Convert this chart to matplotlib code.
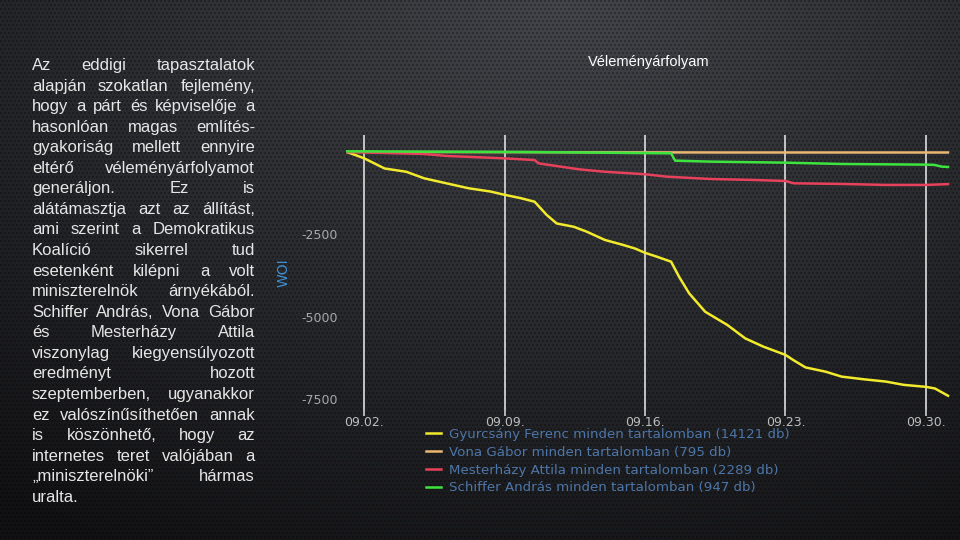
import numpy as np
import matplotlib
matplotlib.use('Agg')
import matplotlib.pyplot as plt

# Napok (szeptember, a hónap napja) és WOI értékek
gy_x = [1.15, 2.0, 3.02, 4.1, 5.0, 6.1, 7.2, 8.3, 9.0, 9.8, 10.5, 11.1, 11.6, 12.45, 13.1,
        14.0, 14.9, 15.5, 16.0, 16.6, 17.3, 17.7, 18.2, 19.0, 20.1, 21.0, 21.9, 23.0, 23.4,
        24.0, 25.0, 25.8, 26.9, 28.0, 28.9, 30.0, 30.45, 31.1]
gy_y = [0, -190, -500, -600, -800, -950, -1100, -1200, -1300, -1400, -1510, -1910, -2170,
        -2270, -2420, -2670, -2820, -2930, -3060, -3180, -3330, -3790, -4290, -4850, -5250,
        -5660, -5910, -6160, -6320, -6540, -6670, -6820, -6900, -6970, -7070, -7130, -7180, -7400]

vona_x = [1.15, 10.0, 20.0, 31.1]
vona_y = [0, -5, -15, -15]

mh_x = [1.15, 3.0, 5.0, 6.1, 8.9, 10.5, 10.7, 11.8, 12.7, 14.0, 16.0, 17.1, 19.3, 21.5,
        23.0, 23.4, 25.8, 28.0, 30.0, 31.1]
mh_y = [0, -30, -60, -120, -190, -245, -345, -445, -525, -600, -675, -750, -820, -850,
        -880, -950, -970, -1000, -1000, -975]

sch_x = [1.15, 10.0, 17.3, 17.5, 19.3, 23.0, 25.8, 30.0, 30.4, 30.8, 31.1]
sch_y = [20, 0, -40, -263, -293, -324, -364, -384, -390, -445, -455]

labels = ['Gyurcsány Ferenc minden tartalomban (14121 db)',
          'Vona Gábor minden tartalomban (795 db)',
          'Mesterházy Attila minden tartalomban (2289 db)',
          'Schiffer András minden tartalomban (947 db)']
colors = ['#f2ea2c', '#e9b872', '#e8415c', '#3ee43e']

tick_days = [2, 9, 16, 23, 30]
tick_labels = ['09.02.', '09.09.', '09.16.', '09.23.', '09.30.']
y_ticks = [-2500, -5000, -7500]

paragraph = [
    'Az eddigi tapasztalatok',
    'alapján szokatlan fejlemény,',
    'hogy a párt és képviselője a',
    'hasonlóan magas említés-',
    'gyakoriság mellett ennyire',
    'eltérő véleményárfolyamot',
    'generáljon. Ez is',
    'alátámasztja azt az állítást,',
    'ami szerint a Demokratikus',
    'Koalíció sikerrel tud',
    'esetenként kilépni a volt',
    'miniszterelnök árnyékából.',
    'Schiffer András, Vona Gábor',
    'és Mesterházy Attila',
    'viszonylag kiegyensúlyozott',
    'eredményt hozott',
    'szeptemberben, ugyanakkor',
    'ez valószínűsíthetően annak',
    'is köszönhető, hogy az',
    'internetes teret valójában a',
    '„miniszterelnöki” hármas',
    'uralta.',
]

W, H = 960, 540
fig = plt.figure(figsize=(9.6, 5.4), dpi=100)

# háttér: sötét színátmenet pöttyös mintával
yy, xx = np.mgrid[0:H, 0:W]
d = np.sqrt(((xx - 560) / 900.0) ** 2 + (yy / 620.0) ** 2)
t = np.clip(d, 0, 1)
top = np.array([0.26, 0.27, 0.29])
bot = np.array([0.07, 0.07, 0.08])
img = top[None, None, :] * (1 - t[..., None]) + bot[None, None, :] * t[..., None]
row = (yy // 4) % 2
dots = (((xx + row * 2) % 4) < 2) & ((yy % 4) < 2)
img[dots] *= 0.72
bg = fig.add_axes([0, 0, 1, 1])
bg.imshow(img, aspect='auto', extent=[0, W, H, 0])
bg.axis('off')

# diagram
ax = fig.add_axes([346 / W, 1 - 410 / H, (950 - 346) / W, 275 / H])
ax.patch.set_alpha(0)
for xs, ys, c, lab in zip([gy_x, vona_x, mh_x, sch_x], [gy_y, vona_y, mh_y, sch_y], colors, labels):
    ax.plot(xs, ys, color=c, lw=1.8, label=lab)

ax.set_xlim(1.1, 31.2)
ax.set_ylim(-7833, 516)
ax.set_xticks(tick_days)
ax.set_xticklabels(tick_labels)
ax.set_yticks(y_ticks)
ax.set_yticklabels([str(v) for v in y_ticks])
for s in ax.spines.values():
    s.set_visible(False)
ax.grid(axis='x', color='#d0d0d0', lw=1.3)
ax.tick_params(axis='x', colors='#d0d0d0', labelcolor='#bdbdbd', labelsize=9,
               length=4, width=1.2, direction='out', pad=0.5)
ax.tick_params(axis='y', length=0, labelcolor='#a8a8a8', labelsize=9, pad=6)
ax.set_ylabel('WOI', color='#3f8fd0', fontsize=10)
ax.yaxis.set_label_coords(-(346 - 291) / 604, 0.5)

fig.legend(loc='upper left', bbox_to_anchor=(426 / W, 1 - 428 / H), frameon=False,
           borderpad=0, borderaxespad=0, handlelength=1.15, handletextpad=0.6,
           labelspacing=0.36, fontsize=9.6, labelcolor='#4d76a8')

fig.text(649 / W, 1 - 62 / H, 'Véleményárfolyam', ha='center', va='center',
         color='white', fontsize=10.5, family='Liberation Sans')

# sorkizárt bekezdés
renderer = fig.canvas.get_renderer()
left, right = 32, 255
base0, step = 70, 20.56
font = dict(color='#e6e6e6', fontsize=12, family='Liberation Sans', va='baseline', ha='left')
space = fig.text(0, 0, 'a a', **font)
sp_w = space.get_window_extent(renderer).width
aa = fig.text(0, 0, 'aa', **font)
sp_w -= aa.get_window_extent(renderer).width
space.remove()
aa.remove()
for i, line in enumerate(paragraph):
    yb = 1 - (base0 + i * step) / H
    words = line.split()
    objs = [fig.text(0, yb, w, **font) for w in words]
    widths = [o.get_window_extent(renderer).width for o in objs]
    if i == len(paragraph) - 1 or len(words) == 1:
        gap = sp_w
    else:
        gap = (right - left - sum(widths)) / (len(words) - 1)
    x = left
    for o, w in zip(objs, widths):
        o.set_position((x / W, yb))
        x += w + gap

fig.savefig('out.png', dpi=100)
